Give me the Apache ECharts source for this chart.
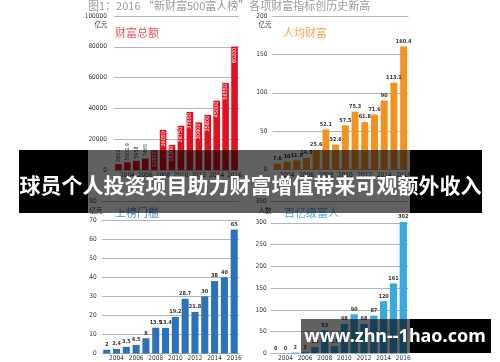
<!DOCTYPE html>
<html>
<head>
<meta charset="utf-8">
<script src="https://cdn.jsdelivr.net/npm/echarts@6/dist/echarts.min.js"></script>
<style>
html,body{margin:0;padding:0;background:#fff;}
#c{width:500px;height:362px;}
</style>
</head>
<body>
<div id="c"></div>
<script>
// ---- data ----
const years = ['2003','2004','2005','2006','2007','2008','2009','2010','2011','2012','2013','2014','2015','2016'];
const totalWealth = [3801, 5001.9, 5958, 7465, 12800, 26050, 16300, 28750, 37650, 30900, 35800, 45000, 56550, 80200];
const avgWealth = [7.6, 10, 11.9, 14.9, 25.6, 52.1, 32.6, 57.5, 75.3, 61.8, 71.6, 90, 113.1, 160.4];
const threshold = [2, 2.4, 3.5, 4.5, 8, 13.5, 13.4, 19.2, 28.7, 21.8, 30, 38, 40, 65];
const billionaires = [0, 0, 2, 3, 15, 53, 17, 68, 90, 68, 87, 120, 161, 302];
const panelTitles = ['财富总额', '人均财富', '上榜门槛', '百亿级富人'];
const unitLabels = ['亿元', '亿元', '亿元', '人数'];
const chartTitle = '图1：2016 “新财富500富人榜”各项财富指标创历史新高';
const bannerText = '球员个人投资项目助力财富增值带来可观额外收入';
const watermarkText = 'www.zhn--1hao.com';

const NARROW = "'Liberation Sans Narrow','DejaVu Sans Condensed','Liberation Sans',sans-serif";
const CJK = "'Noto Sans CJK SC','Noto Sans',sans-serif";
const gridLine = {show: true, lineStyle: {color: '#b5b5b5', width: 1}};

const grids = [
  {left: 114, top: 16, width: 125, height: 154},
  {left: 272.5, top: 16, width: 136, height: 153.5},
  {left: 101.8, top: 201, width: 137.3, height: 153.5},
  {left: 270.7, top: 201, width: 137.5, height: 154}
];
const yCfg = [
  {max: 100000, interval: 20000, margin: 7},
  {max: 200, interval: 50, margin: 5},
  {max: 80, interval: 10, margin: 5},
  {max: 350, interval: 50, margin: 4}
];

const xAxes = grids.map((g, i) => ({
  type: 'category', gridIndex: i, data: years,
  axisLine: {show: false}, axisTick: {show: false},
  axisLabel: {interval: (idx) => idx % 2 === 1, fontSize: 6.5, color: '#333', fontFamily: NARROW, margin: i < 2 ? 2 : 1.5}
}));
const yAxes = yCfg.map((c, i) => ({
  type: 'value', gridIndex: i, min: 0, max: c.max, interval: c.interval,
  axisLine: {show: false}, axisTick: {show: false}, splitLine: gridLine,
  axisLabel: {fontSize: 6.5, color: '#333', fontFamily: NARROW, margin: c.margin, formatter: (v) => String(v)}
}));

const topLabel = {show: true, position: 'top', distance: 2, fontSize: 5.5, fontWeight: 'bold', color: '#333', fontFamily: NARROW};

const totalData = totalWealth.map((v) => v < 10000
  ? {value: v, label: {show: true, position: 'top', rotate: 90, align: 'left', verticalAlign: 'middle', distance: 2, fontSize: 5.5, color: '#333', fontFamily: NARROW, formatter: (p) => String(p.value)}}
  : {value: v, label: {show: true, position: 'insideTop', rotate: 90, align: 'right', verticalAlign: 'middle', distance: 1, fontSize: 5.5, color: '#fff', fontFamily: NARROW, formatter: (p) => String(p.value)}});

const series = [
  {type: 'bar', xAxisIndex: 0, yAxisIndex: 0, data: totalData, barCategoryGap: '26%', itemStyle: {color: '#e1121f'}},
  {type: 'bar', xAxisIndex: 1, yAxisIndex: 1, data: avgWealth, barCategoryGap: '28%', itemStyle: {color: '#f29321'}, label: topLabel},
  {type: 'bar', xAxisIndex: 2, yAxisIndex: 2, data: threshold, barCategoryGap: '28%', itemStyle: {color: '#2b72b9'}, label: topLabel},
  {type: 'bar', xAxisIndex: 3, yAxisIndex: 3, data: billionaires, barCategoryGap: '26%', itemStyle: {color: '#3aa8e1'}, label: topLabel}
];

const titlePos = [[115, 33], [283, 33], [115, 213], [284, 213]];
const titleColors = ['#e8555f', '#f5a447', '#5b94cf', '#55b0e2'];
const unitPos = [[101, 25], [265, 25], [96, 211], [265, 211]];

const graphics = [
  {type: 'text', left: 88, top: 0, z: 50, style: {text: chartTitle, fontSize: 11, fill: '#9a9a9a', fontFamily: CJK}}
];
panelTitles.forEach((t, i) => {
  graphics.push({type: 'text', x: titlePos[i][0], y: titlePos[i][1], z: 50,
    style: {text: t, fontSize: 11, fill: titleColors[i], fontFamily: CJK, verticalAlign: 'middle', align: 'left'}});
  graphics.push({type: 'text', x: unitPos[i][0], y: unitPos[i][1], z: 50,
    style: {text: unitLabels[i], fontSize: 6.5, fill: '#333', fontFamily: CJK, verticalAlign: 'middle', align: 'center'}});
});
// banner overlay
graphics.push({type: 'rect', z: 100, shape: {x: 88, y: 150, width: 322, height: 63}, style: {fill: 'rgba(0,0,0,0.62)'}});
graphics.push({type: 'rect', z: 100, shape: {x: 19, y: 150, width: 69, height: 63}, style: {fill: '#000'}});
graphics.push({type: 'rect', z: 100, shape: {x: 410, y: 150, width: 72, height: 63}, style: {fill: '#000'}});
graphics.push({type: 'text', z: 101, x: 250.5, y: 185, style: {text: bannerText, fontSize: 21, fontWeight: 'bold', fill: '#fff', fontFamily: CJK, align: 'center', verticalAlign: 'middle'}});
// watermark
graphics.push({type: 'rect', z: 100, shape: {x: 301, y: 319, width: 109, height: 34}, style: {fill: 'rgba(0,0,0,0.62)'}});
graphics.push({type: 'rect', z: 100, shape: {x: 410, y: 319, width: 81, height: 34}, style: {fill: '#000'}});
graphics.push({type: 'text', z: 101, x: 395, y: 337, style: {text: watermarkText, fontSize: 18, fontWeight: 'bold', fill: '#fff', fontFamily: "'Noto Sans','Open Sans',sans-serif", align: 'center', verticalAlign: 'middle'}});

const chart = echarts.init(document.getElementById('c'), null, {renderer: 'canvas'});
chart.setOption({
  backgroundColor: '#fff',
  animation: false,
  grid: grids,
  xAxis: xAxes,
  yAxis: yAxes,
  series: series,
  graphic: graphics
});
</script>
</body>
</html>
